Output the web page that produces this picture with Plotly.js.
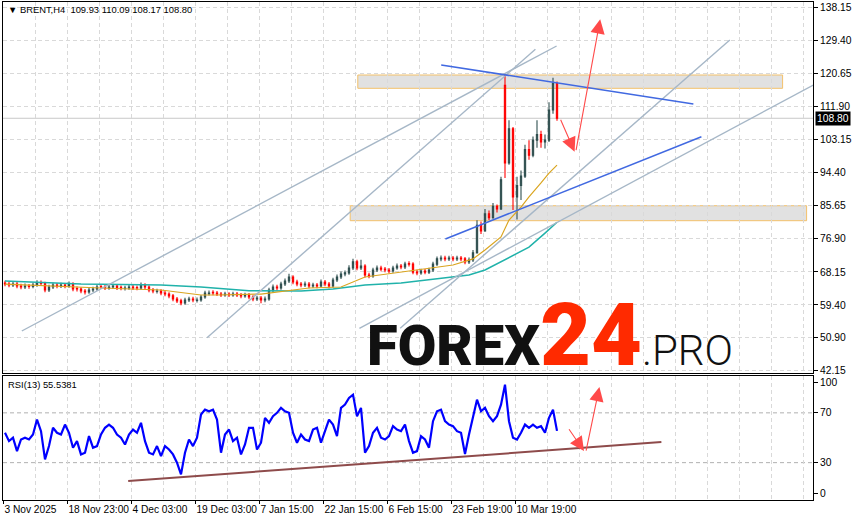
<!DOCTYPE html>
<html>
<head>
<meta charset="utf-8">
<script src="https://cdn.plot.ly/plotly-3.0.1.min.js"></script>
<style>html,body{margin:0;padding:0;background:#fff;}#chart{width:854px;height:521px;}</style>
</head>
<body>
<div id="chart"></div>
<script>
// ---- data (one entry per ~4 px of the original) ----
const xLabels = ['3 Nov 2025','18 Nov 23:00','4 Dec 03:00','19 Dec 03:00','7 Jan 15:00','22 Jan 15:00','6 Feb 15:00','23 Feb 19:00','10 Mar 19:00'];
const priceTicks = [138.15,129.40,120.65,111.90,103.15,94.40,85.65,76.90,68.15,59.40,50.90,42.15];
const rsiTickText = ['100','70','30','0'];
const rsiTickVals = [94.6,70,30,5.6];

const openP = [65.20,64.95,64.69,64.95,64.42,64.16,64.42,64.30,64.69,65.22,
65.10,63.37,64.16,64.69,64.42,64.69,64.42,64.95,63.75,63.63,
63.10,62.84,63.37,63.63,64.30,64.16,63.90,64.16,64.42,64.05,
63.75,63.90,64.16,64.00,63.90,64.69,64.16,63.37,62.95,63.10,
62.58,62.30,61.80,61.00,60.50,59.95,60.73,61.00,60.60,60.73,
61.50,62.40,62.75,62.58,62.30,62.05,62.30,62.05,62.30,62.05,
61.80,62.05,61.50,61.00,61.26,60.73,61.00,63.37,64.16,63.90,
64.95,65.75,66.80,65.50,64.95,64.69,64.95,64.42,64.69,64.42,
65.50,64.95,64.42,66.00,66.80,67.60,67.90,69.20,70.80,69.20,
69.70,67.33,67.06,68.65,69.20,68.90,68.65,68.40,69.20,69.70,
69.45,70.35,70.20,68.10,67.90,68.40,68.10,68.65,70.20,71.60,
71.80,71.60,71.80,71.60,71.80,71.60,70.80,71.30,73.20,80.50,
79.00,83.50,82.50,85.50,84.80,117.50,97.00,106.00,88.00,91.00,
93.50,100.50,99.00,103.00,104.50,102.50,103.00,111.00,118.00];
const highP = [65.80,65.55,65.60,65.45,65.00,65.10,64.95,65.30,65.95,65.85,
65.55,64.75,65.30,65.25,65.30,65.20,65.60,65.40,64.30,64.10,
63.65,63.95,64.25,64.75,64.85,64.70,64.75,65.00,64.90,64.55,
64.50,64.75,64.70,64.55,65.35,65.15,64.60,63.90,63.70,63.55,
63.10,62.80,62.30,61.50,61.05,61.30,61.60,61.55,61.35,62.05,
63.20,63.25,63.30,63.10,62.85,62.90,62.80,62.90,62.85,62.60,
62.65,62.55,62.00,61.85,61.75,61.65,63.95,64.80,64.75,65.55,
66.40,67.65,67.30,66.05,65.50,65.60,65.45,65.30,65.20,66.15,
66.00,65.45,66.60,67.45,68.25,68.55,69.90,71.65,71.35,71.35,
70.20,67.90,69.25,69.85,69.80,69.45,69.20,69.80,70.35,70.25,
70.85,71.00,70.70,68.70,69.00,68.95,69.25,70.85,72.25,72.50,
72.40,72.45,72.35,72.40,72.35,72.10,71.95,73.95,81.80,81.50,
84.80,84.40,86.40,86.00,93.30,120.70,108.30,106.50,93.30,95.00,
101.80,103.00,104.00,108.30,105.50,104.50,113.00,119.50,118.50];
const lowP = [64.35,64.10,64.15,63.85,63.55,63.65,63.70,63.80,64.20,64.50,
62.75,62.85,63.65,63.85,63.90,63.80,63.95,63.05,62.95,62.50,
62.20,62.35,62.85,63.15,63.60,63.35,63.40,63.65,63.35,63.30,
63.25,63.40,63.35,63.30,63.45,63.60,62.80,62.50,62.45,62.00,
61.70,61.20,60.40,59.90,59.35,59.45,60.20,60.15,60.05,60.25,
61.05,61.90,62.00,61.75,61.50,61.55,61.50,61.55,61.50,61.20,
61.30,60.95,60.40,60.45,59.85,60.15,60.55,62.85,63.25,63.40,
64.45,65.25,64.90,64.35,64.10,64.15,63.85,63.90,63.80,63.95,
64.35,63.85,63.95,65.50,66.25,67.00,67.40,68.65,68.60,68.65,
66.70,66.45,66.60,68.10,68.30,68.05,67.80,67.90,68.70,68.85,
68.95,69.60,67.50,67.25,67.40,67.50,67.60,68.15,69.70,71.00,
71.00,71.05,70.95,71.05,70.95,70.15,70.25,70.80,73.00,78.20,
78.80,81.90,82.20,83.90,84.50,93.00,96.50,84.50,82.00,87.20,
93.00,97.80,98.50,101.00,101.00,100.80,102.50,110.00,108.17];
const closeP = [64.95,64.69,64.95,64.42,64.16,64.42,64.30,64.69,65.22,65.10,
63.37,64.16,64.69,64.42,64.69,64.42,64.95,63.63,63.63,63.10,
62.84,63.37,63.63,64.16,64.16,63.90,64.16,64.42,63.90,63.90,
63.90,64.16,63.90,63.90,64.69,64.16,63.37,63.10,63.10,62.58,
62.30,61.80,61.00,60.50,59.95,60.73,61.00,60.73,60.73,61.50,
62.58,62.58,62.58,62.30,62.05,62.30,62.05,62.30,62.05,61.80,
62.05,61.50,61.00,61.26,60.73,61.00,63.37,64.16,63.90,64.95,
65.75,66.80,65.50,64.95,64.69,64.95,64.42,64.69,64.42,65.50,
64.95,64.42,66.00,66.80,67.60,67.90,69.20,70.80,69.20,69.70,
67.33,67.06,68.65,69.20,68.90,68.65,68.40,69.20,69.70,69.45,
70.20,70.20,68.10,67.90,68.40,68.10,68.65,70.20,71.60,71.80,
71.60,71.80,71.60,71.80,71.60,70.80,71.30,73.20,80.50,79.00,
83.50,82.50,85.50,84.80,92.50,97.00,106.00,88.00,91.00,93.50,
100.50,99.00,103.00,104.50,102.50,103.00,111.00,118.00,108.80];

const maSlowIdx = [0,10,24,39,49,53,64,76,84,90,99,107,112,117,120,124,126,129,131,134,136,138];
const maSlowVal = [64.9,64.42,63.9,63.37,62.05,62.05,62.3,63.9,64.16,66.8,68.1,69.45,69.98,71.6,73.94,77.4,81.88,85.3,88.0,91.7,94.3,96.4];
const maLongIdx = [0,11,19,39,49,61,69,74,82,90,99,107,112,116,120,125,131,135,138];
const maLongVal = [65.75,65.2,64.95,64.69,64.16,63.2,63.1,63.1,63.63,64.69,65.22,66.27,66.8,67.33,68.65,71.3,74.7,78.4,81.3];

const rsiVal = [54,47.3,50,39.3,48.6,50,48.6,52.6,64.6,55.3,
32.6,43.3,58,54,52.6,60.6,54,42,47.3,36.6,
38,51.3,42,43.3,52.6,58,60.6,58,52.6,50,
44.6,52.6,56.6,54,62,47.3,38,36.6,43.3,35.3,
43.3,40.6,36.6,30,20.6,38,48.6,43.3,50,68.6,
72.6,71.3,72.6,64.6,38,52.6,56.6,47.3,50,36.6,
44.6,58,58,40.6,46,66,62,67.3,70,74,
71.3,70,54,46,52.6,48.6,47.3,56.6,58,46,
55.3,64.6,60.6,51.3,74,76.6,82,84.6,67.3,74,
38,43.3,54,58,50,48.6,51.3,59.3,56.6,55.3,
60.6,47.3,38,39.3,51.3,48.6,42,63.3,71.3,72.6,
63.3,60.6,59.3,55.3,54,37,52.6,66,80.6,71.3,
74,67.3,63.3,67.3,76.6,92.6,63.3,50,48.6,54,
60.6,58,60.6,58,59.3,54,66,72.6,55.54];
const rsiLevels = [70,30];
const lastPrice = 108.80;

// analyst drawings (bar index, price) : [x0, y0, x1, y1]
const grayLines = [[4.2,52.52,137.9,127.91],[50.5,50.74,132.6,127.04],[98.8,53.23,181.2,129.5],[88.6,53.23,212.25,123.34]];
const blueLines = [[109.05,122.89,172.1,112.57],[110.1,76.85,174.1,103.92]];
const zones = [[88.2,120.24,194.4,116.72],[86.3,85.66,200.4,81.7]];
const priceArrows = [[138.75,108.78,142.4,99.95],[142.7,99.95,148.8,134.98]];
const rsiTrend = [30.8,15.3,164.1,46.5];
const rsiArrows = [[140.75,58,144.75,39.3],[145.2,38.5,148.6,90.8]];

// ---- build ----
const idx = closeP.map((_, i) => i);
const GRID = '#d9d9d9';
const DASH = '4px,3px';
const FONT = '"Liberation Sans Narrow","Liberation Sans",Arial,sans-serif';
const labelIdx = xLabels.map((_, j) => -0.4 + 16 * j);

const traces = [
  {type:'scatter', mode:'lines', x:maLongIdx, y:maLongVal, xaxis:'x', yaxis:'y', line:{color:'#20b2aa', width:1.5}, hoverinfo:'skip'},
  {type:'scatter', mode:'lines', x:maSlowIdx, y:maSlowVal, xaxis:'x', yaxis:'y', line:{color:'#daa520', width:1.2}, hoverinfo:'skip'},
  {type:'candlestick', x:idx, open:openP, high:highP, low:lowP, close:closeP, xaxis:'x', yaxis:'y',
   increasing:{line:{color:'#2f4f4f', width:1.1}, fillcolor:'#2f4f4f'},
   decreasing:{line:{color:'#ff0000', width:1.1}, fillcolor:'#ff0000'},
   whiskerwidth:0, hoverinfo:'skip'},
  {type:'scatter', mode:'lines', x:idx, y:rsiVal, xaxis:'x2', yaxis:'y2', line:{color:'#0000ff', width:2.2}, hoverinfo:'skip'}
];

const shapes = [];
zones.forEach(z => shapes.push({type:'rect', xref:'x', yref:'y', x0:z[0], y0:z[1], x1:z[2], y1:z[3], layer:'below', fillcolor:'#e1e1e1', line:{color:'#f3c16a', width:1}}));
shapes.push({type:'line', xref:'paper', yref:'y', x0:0, x1:1, y0:lastPrice, y1:lastPrice, layer:'below', line:{color:'#c8c8c8', width:1}});
grayLines.forEach(l => shapes.push({type:'line', xref:'x', yref:'y', x0:l[0], y0:l[1], x1:l[2], y1:l[3], line:{color:'#a6b7c7', width:1.4}}));
blueLines.forEach(l => shapes.push({type:'line', xref:'x', yref:'y', x0:l[0], y0:l[1], x1:l[2], y1:l[3], line:{color:'#4169e1', width:1.6}}));
rsiLevels.forEach(v => shapes.push({type:'line', xref:'paper', yref:'y2', x0:0, x1:1, y0:v, y1:v, layer:'below', line:{color:'#b0b0b0', width:1, dash:DASH}}));
shapes.push({type:'line', xref:'x2', yref:'y2', x0:rsiTrend[0], y0:rsiTrend[1], x1:rsiTrend[2], y1:rsiTrend[3], line:{color:'#8e4b4b', width:2}});

const annotations = [];
const arrowStyle = {text:'', showarrow:true, arrowhead:2, arrowsize:2.6, arrowwidth:1.1, arrowcolor:'#ff4a4a'};
priceArrows.forEach(a => annotations.push(Object.assign({xref:'x', yref:'y', axref:'x', ayref:'y', ax:a[0], ay:a[1], x:a[2], y:a[3]}, arrowStyle)));
rsiArrows.forEach(a => annotations.push(Object.assign({xref:'x2', yref:'y2', axref:'x2', ayref:'y2', ax:a[0], ay:a[1], x:a[2], y:a[3]}, arrowStyle)));
annotations.push({xref:'paper', yref:'paper', x:0.004, y:0.984, xanchor:'left', yanchor:'middle', showarrow:false,
  text:'▼ BRENT,H4\u00a0\u00a0109.93 110.09 108.17 108.80', font:{family:FONT, size:9.4, color:'#000'}});
annotations.push({xref:'paper', yref:'paper', x:0.004, y:0.231, xanchor:'left', yanchor:'middle', showarrow:false,
  text:'RSI(13) 55.5381', font:{family:FONT, size:9.4, color:'#000'}});
annotations.push({xref:'paper', yref:'y', x:1, y:lastPrice, xanchor:'left', yanchor:'middle', xshift:2, showarrow:false,
  text:lastPrice.toFixed(2), bgcolor:'#000', borderpad:1, font:{family:FONT, size:10.3, color:'#fff'}});
annotations.push({xref:'paper', yref:'paper', x:0.447, y:0.225, xanchor:'left', yanchor:'bottom', showarrow:false,
  text:'FOREX<span style="color:#ff2a00;font-size:88px">24</span><span style="font-size:42px;font-weight:300">.PRO</span>',
  font:{family:'Roboto, "Liberation Sans", Arial', size:56, color:'#111', weight:900}});

const xCommon = {range:[-0.5,202], tickvals:labelIdx, showgrid:true, gridcolor:GRID, griddash:DASH, gridwidth:1,
  minor:{tickmode:'linear', tick0:-0.4, dtick:8, showgrid:true, gridcolor:GRID, griddash:DASH, ticks:''},
  showline:true, mirror:true, linecolor:'#000', linewidth:1, zeroline:false, fixedrange:true};

const layout = {
  width:854, height:521, margin:{l:3, r:41, t:2, b:21, pad:0},
  paper_bgcolor:'#fff', plot_bgcolor:'#fff', showlegend:false, dragmode:false, boxgap:0.55,
  font:{family:FONT, size:10.3, color:'#000'},
  xaxis:Object.assign({}, xCommon, {anchor:'y', showticklabels:false, ticks:'', rangeslider:{visible:false}}),
  xaxis2:Object.assign({}, xCommon, {anchor:'y2', ticktext:xLabels, tickangle:0, ticklabelposition:'outside right',
    ticks:'outside', ticklen:3, tickcolor:'#000', tickfont:{family:FONT, size:10.2, color:'#000'}}),
  yaxis:{domain:[0.256,1], anchor:'x', side:'right', range:[41.54,139.55], tickvals:priceTicks, ticktext:priceTicks.map(v => v.toFixed(2)),
    ticks:'outside', ticklen:4, tickcolor:'#000', showgrid:true, gridcolor:GRID, griddash:DASH,
    showline:true, mirror:true, linecolor:'#000', zeroline:false, fixedrange:true, tickfont:{family:FONT, size:10.3, color:'#000'}},
  yaxis2:{domain:[0,0.25], anchor:'x2', side:'right', range:[0,100], tickvals:rsiTickVals, ticktext:rsiTickText,
    ticks:'outside', ticklen:4, tickcolor:'#000', showgrid:false,
    showline:true, mirror:true, linecolor:'#000', zeroline:false, fixedrange:true, tickfont:{family:FONT, size:10.3, color:'#000'}},
  shapes:shapes, annotations:annotations
};

Plotly.newPlot('chart', traces, layout, {displayModeBar:false, staticPlot:true});
</script>
</body>
</html>
